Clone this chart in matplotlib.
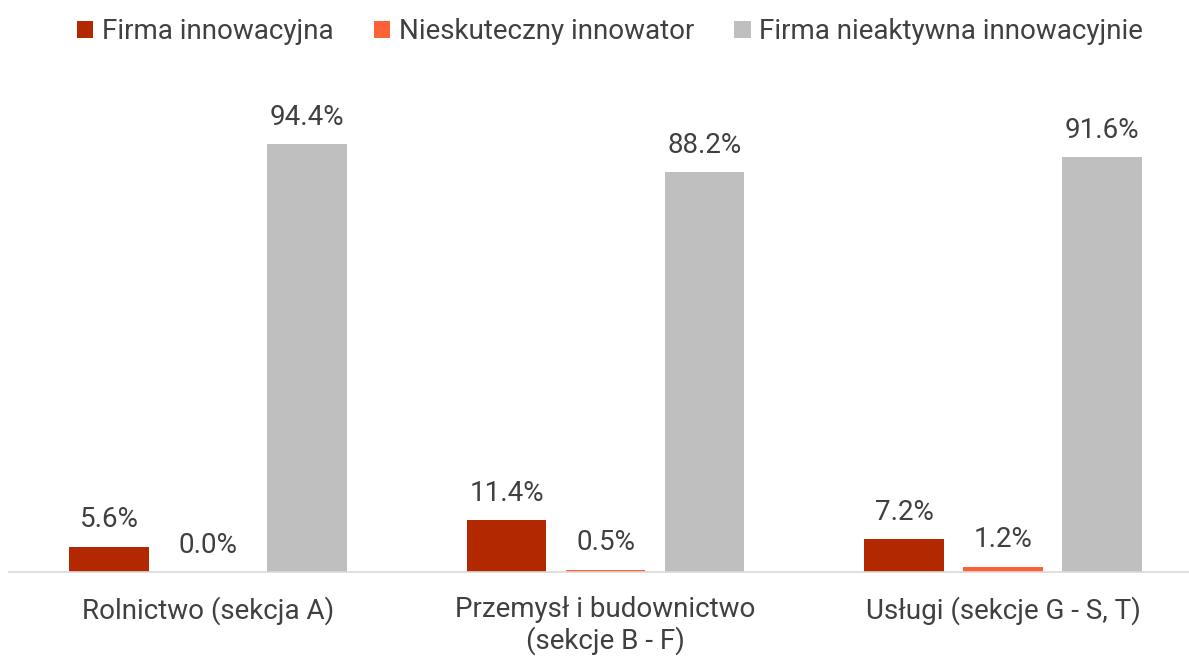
import matplotlib
matplotlib.use('Agg')
import matplotlib.pyplot as plt
import numpy as np

plt.rcParams['font.family'] = ['Roboto', 'DejaVu Sans']

categories = ['Rolnictwo (sekcja A)', 'Przemysł i budownictwo\n(sekcje B - F)', 'Usługi (sekcje G - S, T)']
series_names = ['Firma innowacyjna', 'Nieskuteczny innowator', 'Firma nieaktywna innowacyjnie']
innowacyjna = [5.6, 11.4, 7.2]
nieskuteczny = [0.0, 0.5, 1.2]
nieaktywna = [94.4, 88.2, 91.6]
colors = ['#B22800', '#FF6136', '#BFBFBF']
TEXT = '#404040'
FS = 20

fig = plt.figure(figsize=(11.89, 6.57), dpi=100)
ax = fig.add_axes([9.25 / 1189, 85 / 657, 1192.5 / 1189, 453 / 657])

x = np.arange(len(categories))
width = 0.201
step = 0.249
for i, (vals, name, col) in enumerate(zip([innowacyjna, nieskuteczny, nieaktywna], series_names, colors)):
    bars = ax.bar(x + (i - 1) * step, vals, width, color=col, label=name)
    for b, v in zip(bars, vals):
        ax.annotate('{:.1f}%'.format(v), (b.get_x() + b.get_width() / 2, b.get_height()),
                    xytext=(0, 14), textcoords='offset points', ha='center', va='baseline',
                    fontsize=FS, color=TEXT)

ax.set_xlim(-0.5, 2.5)
ax.set_ylim(0, 100)
ax.set_xticks(x)
ax.set_xticklabels(categories, fontsize=FS, color=TEXT, linespacing=1.15)
ax.tick_params(axis='x', length=0, pad=17.5)
ax.set_yticks([])
for s in ['top', 'right', 'left']:
    ax.spines[s].set_visible(False)
ax.spines['bottom'].set_color('#D9D9D9')
ax.spines['bottom'].set_linewidth(1.2)

leg = fig.legend(loc='upper center', bbox_to_anchor=(0.513, 1.01), ncol=3, frameon=False,
                 fontsize=FS, handlelength=0.6, handleheight=0.6, handletextpad=0.3,
                 columnspacing=1.45)
for t in leg.get_texts():
    t.set_color(TEXT)

fig.savefig('out.png', dpi=100)
